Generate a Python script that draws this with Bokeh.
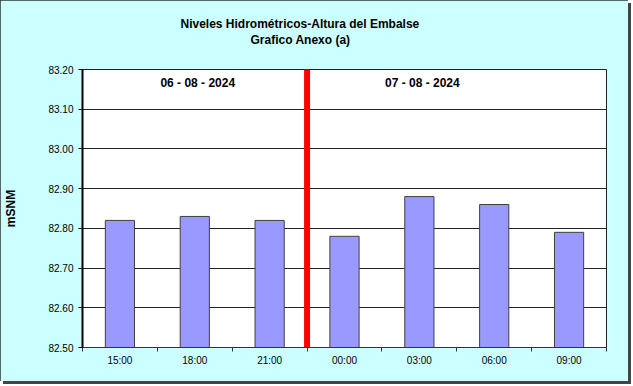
from bokeh.plotting import figure
from bokeh.models import FixedTicker, Span, Title, Range1d, ColumnDataSource, PrintfTickFormatter
from bokeh.core.properties import value
from bokeh.embed import file_html
from bokeh.resources import INLINE

TITLE_1 = "Niveles Hidrométricos-Altura del Embalse"
TITLE_2 = "Grafico Anexo (a)"
Y_LABEL = "mSNM"
DATES = ["06 - 08 - 2024", "07 - 08 - 2024"]
DATE_X = [1.54, 4.54]          # label position, in category units
DATE_Y = [83.165, 83.165]
HOURS = ["15:00", "18:00", "21:00", "00:00", "03:00", "06:00", "09:00"]
DAY_OF = [0, 0, 0, 1, 1, 1, 1]
LEVELS = [82.82, 82.83, 82.82, 82.78, 82.88, 82.86, 82.79]
Y_TICKS = [82.50, 82.60, 82.70, 82.80, 82.90, 83.00, 83.10, 83.20]

FONT = "Liberation Sans"
BG = "#CCFFFF"
Y_MIN, Y_MAX = Y_TICKS[0], Y_TICKS[-1]
n = len(HOURS)
xs = [i + 0.5 for i in range(n)]

p = figure(width=628, height=381, output_backend="svg", toolbar_location=None,
           title=None, x_range=Range1d(0, n), y_range=Range1d(Y_MIN, Y_MAX),
           min_border_left=82, min_border_right=22, min_border_top=69, min_border_bottom=34)
p.border_fill_color = BG
p.background_fill_color = "white"
p.outline_line_color = "#222222"
p.outline_line_width = 1
p.styles = {"box-shadow": "3px 3px 0px #444444", "outline": "1px solid #333333", "outline-offset": "-1px"}

src = ColumnDataSource(dict(x=xs, top=LEVELS))
p.vbar(x="x", top="top", bottom=Y_MIN, width=0.39, source=src,
       fill_color="#9999FF", line_color="#404040", line_width=1)

# day separator
split = DAY_OF.index(1)
p.add_layout(Span(location=split, dimension="height", line_color="#FF0000", line_width=6))

p.text(x=DATE_X, y=DATE_Y, text=DATES, text_font=value(FONT), text_font_size="12px",
       text_font_style="bold", text_align="center", text_baseline="middle", text_color="black")

# x axis
xa = p.xaxis[0]
xa.ticker = FixedTicker(ticks=xs, minor_ticks=list(range(n + 1)))
xa.major_label_overrides = {x: h for x, h in zip(xs, HOURS)}
xa.major_tick_line_color = None
xa.minor_tick_line_color = "#333333"
xa.minor_tick_out = 4
xa.minor_tick_in = 0
xa.axis_line_color = "#333333"
xa.major_label_text_font = FONT
xa.major_label_text_font_size = "10px"
xa.major_label_text_color = "black"
xa.major_label_standoff = 1

# y axis
ya = p.yaxis[0]
ya.ticker = FixedTicker(ticks=Y_TICKS)
ya.formatter = PrintfTickFormatter(format="%.2f")
ya.major_tick_out = 4
ya.major_tick_in = 0
ya.major_tick_line_color = "black"
ya.minor_tick_line_color = None
ya.axis_line_color = "black"
ya.axis_line_width = 2
ya.major_label_text_font = FONT
ya.major_label_text_font_size = "10px"
ya.major_label_text_color = "black"
ya.major_label_standoff = 5
ya.axis_label = Y_LABEL
ya.axis_label_text_font = FONT
ya.axis_label_text_font_size = "12px"
ya.axis_label_text_font_style = "bold"
ya.axis_label_text_color = "black"
ya.axis_label_standoff = 27

p.xgrid.grid_line_color = None
p.ygrid.grid_line_color = "#222222"
p.ygrid.grid_line_width = 1

# spacer (drawn in the background colour) between the frame and the two title lines
spacer = Title(text=".", text_font=FONT, text_font_size="12px", text_color=BG, standoff=12)
t2 = Title(text=TITLE_2, align="left", offset=168, text_font=FONT, text_font_size="12px",
           text_font_style="bold", text_color="black", standoff=0)
t1 = Title(text=TITLE_1, align="left", offset=98, text_font=FONT, text_font_size="12px",
           text_font_style="bold", text_color="black", standoff=0)
p.add_layout(spacer, "above")
p.add_layout(t2, "above")
p.add_layout(t1, "above")

open("out.html", "w").write(file_html(p, INLINE))
